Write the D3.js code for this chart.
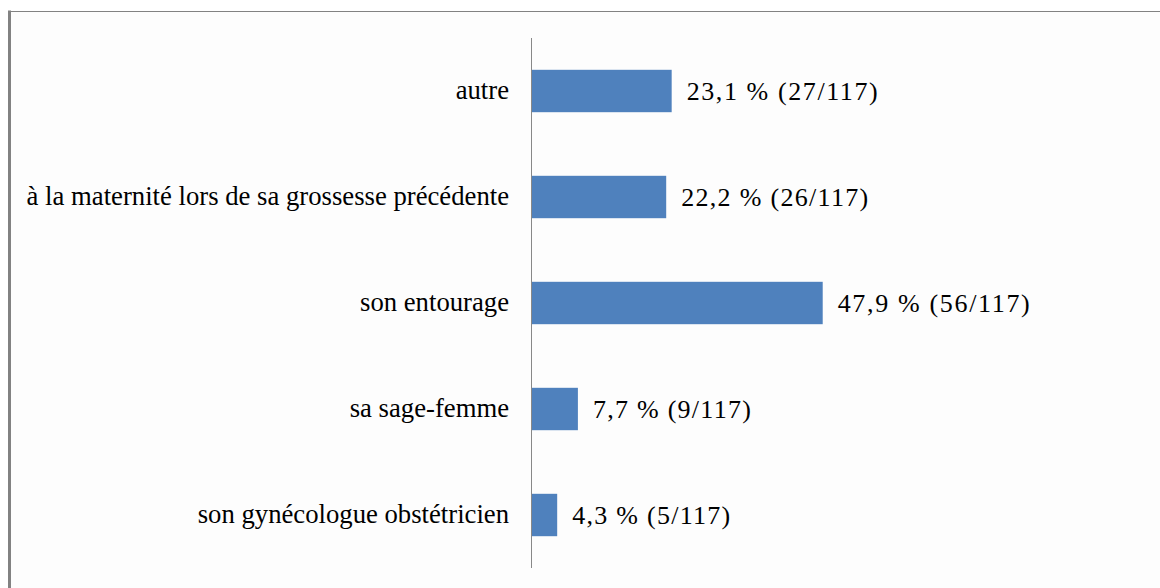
<!DOCTYPE html>
<html>
<head>
<meta charset="utf-8">
<script src="https://cdn.jsdelivr.net/npm/d3@7"></script>
<style>
  html, body { margin: 0; padding: 0; background: #ffffff; }
  svg { display: block; }
  svg text { font-family: "Liberation Serif", "DejaVu Serif", serif; }
</style>
</head>
<body>
<svg id="chart" width="1160" height="588"></svg>
<script>
const categories = [
  "autre",
  "à la maternité lors de sa grossesse précédente",
  "son entourage",
  "sa sage-femme",
  "son gynécologue obstétricien"
];
const percents = [23.1, 22.2, 47.9, 7.7, 4.3];
const counts = [27, 26, 56, 9, 5];
const total = 117;
const valueLabels = ["23,1 % (27/117)", "22,2 % (26/117)", "47,9 % (56/117)", "7,7 % (9/117)", "4,3 % (5/117)"];

const valWidths = [191, 187, 192, 158, 158];

const data = categories.map((c, i) => ({ cat: c, pct: percents[i], n: counts[i], label: valueLabels[i], vw: valWidths[i] }));

const FONT = '"Liberation Serif", "DejaVu Serif", serif';
const svg = d3.select("#chart");

// frame background
svg.append("rect").attr("x", 10).attr("y", 11).attr("width", 1150).attr("height", 577).attr("fill", "#fdfdfd");
svg.append("line").attr("x1", 9.5).attr("x2", 9.5).attr("y1", 10.5).attr("y2", 588)
  .attr("stroke", "#828282").attr("stroke-width", 3);
svg.append("line").attr("x1", 8).attr("x2", 1160).attr("y1", 11.5).attr("y2", 11.5)
  .attr("stroke", "#828282").attr("stroke-width", 1);

const x = d3.scaleLinear().domain([0, 100]).range([531, 1140]);
const y = d3.scaleBand().domain(categories).range([38, 568]).paddingInner(0.6).paddingOuter(0.3);

// bars
svg.append("g").selectAll("rect").data(data).join("rect")
  .attr("x", x(0))
  .attr("y", d => y(d.cat))
  .attr("width", d => x(d.pct) - x(0))
  .attr("height", y.bandwidth())
  .attr("fill", "#4f81bd");

// axis
const axis = d3.axisLeft(y).tickSize(0).tickPadding(22);
const gAxis = svg.append("g").attr("transform", `translate(${x(0)},0)`).call(axis)
  .attr("font-family", null).attr("font-size", null);
gAxis.select(".domain").attr("stroke", "#888888").attr("stroke-width", 1)
  .attr("d", "M0.5,38V568");
gAxis.selectAll(".tick text")
  .style("font-family", FONT)
  .style("font-size", "26.7px")
  .attr("fill", "#000")
  .attr("dy", "0.3em");

// value labels
svg.append("g").selectAll("text").data(data).join("text")
  .attr("x", d => x(d.pct) + 15)
  .attr("y", d => y(d.cat) + y.bandwidth() / 2)
  .attr("dy", "0.33em")
  .style("font-family", FONT)
  .style("font-size", "26px")
  .attr("fill", "#000")
  .attr("textLength", d => d.vw)
  .attr("lengthAdjust", "spacing")
  .text(d => d.label);
</script>
</body>
</html>
